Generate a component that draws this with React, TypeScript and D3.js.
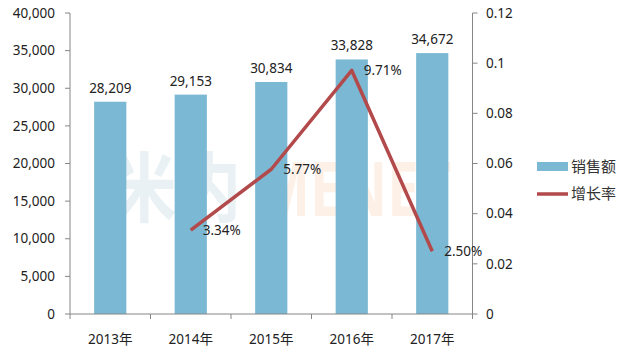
import React from 'react';
import * as d3 from 'd3';

const years = ['2013年', '2014年', '2015年', '2016年', '2017年'];
const sales = [28209, 29153, 30834, 33828, 34672];
const growth: (number | null)[] = [null, 0.0334, 0.0577, 0.0971, 0.025];
const growthLabels = ['', '3.34%', '5.77%', '9.71%', '2.50%'];
const leftTicks = [0, 5000, 10000, 15000, 20000, 25000, 30000, 35000, 40000];
const rightTicks = [0, 0.02, 0.04, 0.06, 0.08, 0.1, 0.12];

const W = 626;
const H = 361;
const m = { left: 70, right: 472.5, top: 13, bottom: 314 };
const FONT = '"Noto Sans", "Noto Sans CJK SC", sans-serif';
const AXIS = '#868686';
const BAR = '#7bb8d3';
const LINE = '#b2494b';

export default function App() {
  const x = d3.scaleBand<string>().domain(years).range([m.left, m.right]).paddingInner(0.6).paddingOuter(0.3);
  const band = d3.scaleBand<string>().domain(years).range([m.left, m.right]);
  const y = d3.scaleLinear().domain([0, 40000]).range([m.bottom, m.top]);
  const y2 = d3.scaleLinear().domain([0, 0.12]).range([m.bottom, m.top]);
  const fmt = d3.format(',');

  const pts = years
    .map((yr, i) => ({ yr, v: growth[i], label: growthLabels[i] }))
    .filter(d => d.v !== null) as { yr: string; v: number; label: string }[];
  const line = d3.line<{ yr: string; v: number }>()
    .x(d => (band(d.yr) as number) + band.bandwidth() / 2)
    .y(d => y2(d.v));

  const cx = (yr: string) => (band(yr) as number) + band.bandwidth() / 2;

  return (
    <svg width={W} height={H} style={{ position: 'absolute', left: 0, top: 0, background: '#fff' }} fontFamily={FONT}>
      {/* watermark */}
      <g fontWeight={700} fontSize={76} opacity={0.12}>
        <text transform="translate(112,216) scale(0.85,1)" fill="#5b8fb0">米内</text>
        <text transform="translate(257,216) scale(0.74,1)" fill="#f08a3a">MENET</text>
      </g>

      {/* bars */}
      {years.map((yr, i) => (
        <g key={yr}>
          <rect x={x(yr)} y={y(sales[i])} width={x.bandwidth()} height={m.bottom - y(sales[i])} fill={BAR} />
          <text x={cx(yr)} y={y(sales[i]) - 9} textAnchor="middle" fontSize={13.5} fill="#222">{fmt(sales[i])}</text>
        </g>
      ))}

      {/* left axis */}
      <line x1={m.left} x2={m.left} y1={m.top} y2={m.bottom} stroke={AXIS} />
      {leftTicks.map(t => (
        <g key={t}>
          <line x1={m.left - 5} x2={m.left} y1={y(t)} y2={y(t)} stroke={AXIS} />
          <text x={55} y={y(t)} dy="0.35em" textAnchor="end" fontSize={13.5} fill="#222">{fmt(t)}</text>
        </g>
      ))}

      {/* right axis */}
      <line x1={m.right} x2={m.right} y1={m.top} y2={m.bottom} stroke={AXIS} />
      {rightTicks.map(t => (
        <g key={t}>
          <line x1={m.right} x2={m.right + 5} y1={y2(t)} y2={y2(t)} stroke={AXIS} />
          <text x={486} y={y2(t)} dy="0.35em" fontSize={13.5} fill="#222">{String(+t.toFixed(2))}</text>
        </g>
      ))}

      {/* bottom axis */}
      <line x1={m.left} x2={m.right} y1={m.bottom} y2={m.bottom} stroke={AXIS} />
      {years.map(yr => (
        <g key={yr}>
          <line x1={band(yr)} x2={band(yr)} y1={m.bottom} y2={m.bottom + 5} stroke={AXIS} />
          <text x={cx(yr)} y={339} dy="0.35em" textAnchor="middle" fontSize={13.5} fill="#222">{yr}</text>
        </g>
      ))}
      <line x1={m.right} x2={m.right} y1={m.bottom} y2={m.bottom + 5} stroke={AXIS} />

      {/* growth line */}
      <path d={line(pts) || ''} fill="none" stroke={LINE} strokeWidth={3.5} strokeLinejoin="round" />
      {pts.map(d => (
        <text key={d.yr} x={cx(d.yr) + 12} y={y2(d.v)} dy="0.35em" fontSize={13.5} fill="#222">{d.label}</text>
      ))}

      {/* legend */}
      <rect x={537} y={162} width={31} height={9} fill={BAR} />
      <text x={571} y={166.5} dy="0.35em" fontSize={15} fill="#333">销售额</text>
      <line x1={537} x2={568} y1={194} y2={194} stroke={LINE} strokeWidth={3.5} />
      <text x={571} y={194} dy="0.35em" fontSize={15} fill="#333">增长率</text>
    </svg>
  );
}
